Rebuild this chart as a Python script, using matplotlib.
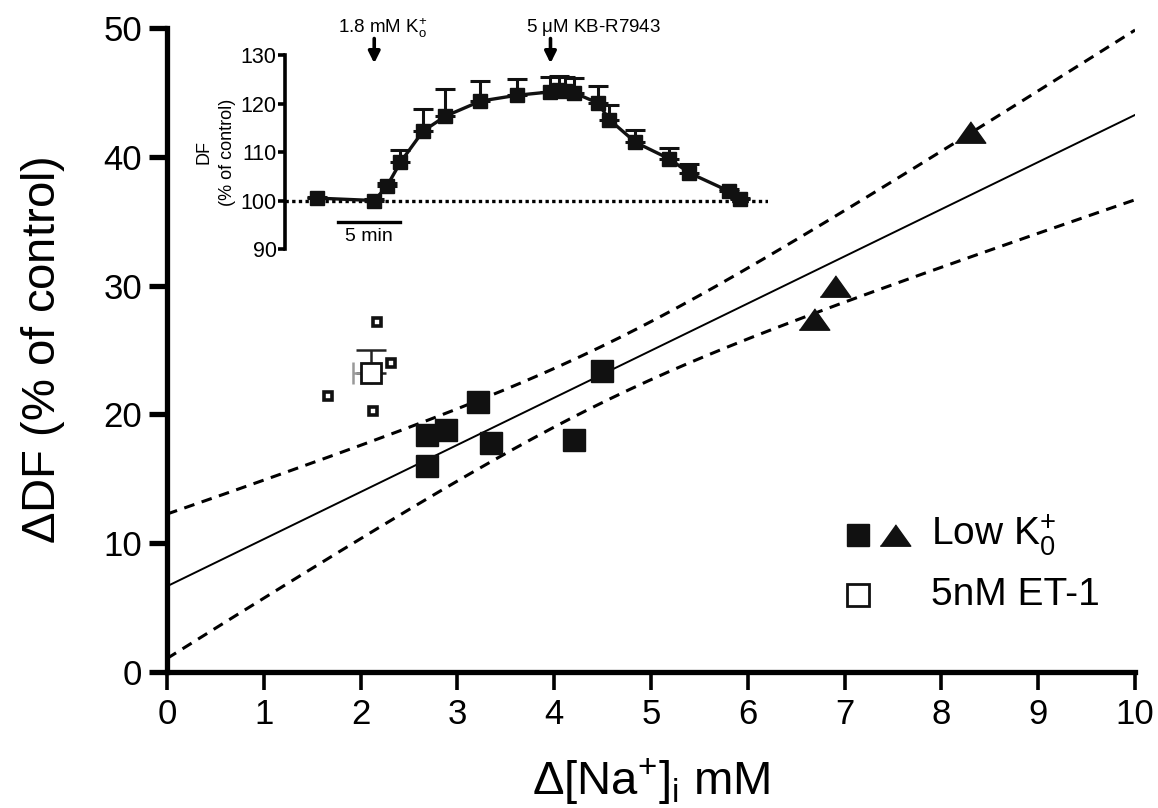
import numpy as np
import matplotlib
matplotlib.use("Agg")
import matplotlib.pyplot as plt

plt.rcParams['font.family'] = ['Liberation Sans', 'DejaVu Sans']
plt.rcParams['mathtext.fontset'] = 'custom'
plt.rcParams['mathtext.rm'] = 'Liberation Sans'
plt.rcParams['mathtext.it'] = 'Liberation Sans'

# ---- main panel data ----
sq_x = [2.69, 2.88, 2.69, 3.21, 3.35, 4.20, 4.49]
sq_y = [18.4, 18.8, 16.0, 21.0, 17.75, 18.0, 23.4]
tri_x = [6.68, 6.90, 8.29]
tri_y = [27.4, 30.0, 41.9]

et_x = [2.17, 2.31, 1.66, 2.13]
et_y = [27.2, 24.0, 21.4, 20.3]
et_mean_x = 2.11
et_mean_y = 23.2
et_sem_x = 0.19
et_sem_y = 1.8

T95_DF8 = 2.306  # t(0.975, 8)

# ---- inset data ----
t_min = [0, 4.6, 5.6, 6.7, 8.5, 10.3, 13.1, 16.0, 18.7, 19.4, 19.9, 20.6,
         22.5, 23.4, 25.5, 28.2, 29.8, 33.0, 33.9]
df_mean = [100.5, 100.0, 102.9, 107.9, 114.3, 117.4, 120.5, 121.7, 122.4, 122.7,
           122.6, 122.2, 120.1, 116.7, 112.0, 108.6, 105.7, 101.9, 100.3]
df_sem = [0.3, 0.3, 0.8, 2.6, 4.5, 5.5, 4.1, 3.3, 3.0, 3.0,
          2.8, 3.0, 3.5, 2.9, 2.6, 2.2, 1.8, 0.4, 0.3]

fig = plt.figure(figsize=(11.58, 8.08), dpi=100)
ax = fig.add_axes([0.1442, 0.1683, 0.836, 0.797])

# regression on the low K points with 95% confidence band
x_all = np.array(sq_x + tri_x)
y_all = np.array(sq_y + tri_y)
slope, icpt = np.polyfit(x_all, y_all, 1)
n = len(x_all)
resid = y_all - (icpt + slope * x_all)
s = np.sqrt(np.sum(resid ** 2) / (n - 2))
sxx = np.sum((x_all - x_all.mean()) ** 2)
xx = np.linspace(0, 10, 200)
yy = icpt + slope * xx
hw = T95_DF8 * s * np.sqrt(1.0 / n + (xx - x_all.mean()) ** 2 / sxx)

ax.plot(xx, yy, color='k', lw=1.4, zorder=2)
ax.plot(xx, yy + hw, color='k', lw=2.2, ls=(0, (3.5, 2.5)), zorder=2)
ax.plot(xx, yy - hw, color='k', lw=2.2, ls=(0, (3.5, 2.5)), zorder=2)

tri_marker = [(-1, -0.7), (1, -0.7), (0, 0.7)]
ax.plot(sq_x, sq_y, 's', color='#111111', ms=16.5, zorder=4, ls='none')
ax.plot(tri_x, tri_y, ls='none', marker=tri_marker, color='#111111', ms=22, zorder=4)

# ET-1
ax.plot(et_x, et_y, 's', ls='none', ms=6, mfc='white', mec='#111111', mew=2.6, zorder=4)
ax.errorbar([et_mean_x], [et_mean_y], yerr=[[0], [et_sem_y]], fmt='none',
            ecolor='#222222', elinewidth=1.8, capsize=11, capthick=1.8, zorder=3)
ax.errorbar([et_mean_x], [et_mean_y], xerr=[[et_sem_x], [0]], fmt='none',
            ecolor='#999999', elinewidth=1.8, capsize=8, capthick=1.8, zorder=3)
ax.plot([et_mean_x], [et_mean_y], 's', ms=15, mfc='white', mec='#111111', mew=2, zorder=5)

ax.set_xlim(0, 10)
ax.set_ylim(0, 50)
ax.set_xticks(range(0, 11))
ax.set_yticks(range(0, 51, 10))
for sp in ['top', 'right']:
    ax.spines[sp].set_visible(False)
for sp in ['left', 'bottom']:
    ax.spines[sp].set_linewidth(3.8)
ax.tick_params(direction='out', length=13, width=2.6, labelsize=25, pad=6)
ax.tick_params(axis='y', width=3.8, pad=5)
ax.set_xlabel(r'$\Delta$[Na$^{+}$]$_{\rm i}$ mM', fontsize=34, labelpad=18)
ax.set_ylabel(r'$\Delta$DF (% of control)', fontsize=34, labelpad=26)

# legend drawn by hand
ax.plot([0.714], [0.213], 's', color='#111111', ms=16.5, transform=ax.transAxes, clip_on=False)
ax.plot([0.752], [0.213], marker=tri_marker, color='#111111', ms=22, transform=ax.transAxes, clip_on=False)
ax.text(0.789, 0.213, r'Low K$^{+}_{0}$', fontsize=28, va='center', ha='left', transform=ax.transAxes)
ax.plot([0.714], [0.12], 's', ms=16, mfc='white', mec='#111111', mew=2, transform=ax.transAxes, clip_on=False)
ax.text(0.789, 0.12, '5nM ET-1', fontsize=28, va='center', ha='left', transform=ax.transAxes)

# ---- inset ----
ai = fig.add_axes([0.2461, 0.6918, 0.4171, 0.2401])
ai.set_xlim(-2.54, 36.1)
ai.set_ylim(90, 130)
ai.axhline(100, color='k', lw=2.4, ls=(0, (1, 1)), zorder=1)
ai.errorbar(t_min, df_mean, yerr=[np.zeros(len(df_sem)), df_sem], fmt='s-', color='#111111',
            ms=10.5, lw=2.4, elinewidth=2.2, capsize=7, capthick=2.2, zorder=3)
for sp in ['top', 'right', 'bottom']:
    ai.spines[sp].set_visible(False)
ai.spines['left'].set_linewidth(2.6)
ai.set_xticks([])
ai.set_yticks([90, 100, 110, 120, 130])
ai.tick_params(axis='y', direction='out', length=5, width=2.6, labelsize=15.5, pad=1)
ai.set_ylabel('DF\n(% of control)', fontsize=13, labelpad=3, linespacing=1.5)
ai.patch.set_alpha(0)

# scale bar 5 min
ai.plot([1.7, 6.7], [95.5, 95.5], color='k', lw=2.4, clip_on=False)
ai.text(4.2, 94.4, '5 min', fontsize=14, ha='center', va='top')

# treatment arrows
for ti, dx, lab in [(t_min[1], 0.7, r'1.8 mM K$^{+}_{\rm o}$'),
                    (t_min[8], 3.4, r'5 $\mu$M KB-R7943')]:
    ai.annotate('', xy=(ti, 128.3), xytext=(ti, 133.4), annotation_clip=False,
                arrowprops=dict(arrowstyle='-|>', color='k', lw=2.6, mutation_scale=17,
                                shrinkA=0, shrinkB=0))
    ai.text(ti + dx, 135.6, lab, fontsize=13.5, ha='center', va='center')

fig.savefig('out.png', dpi=100)
